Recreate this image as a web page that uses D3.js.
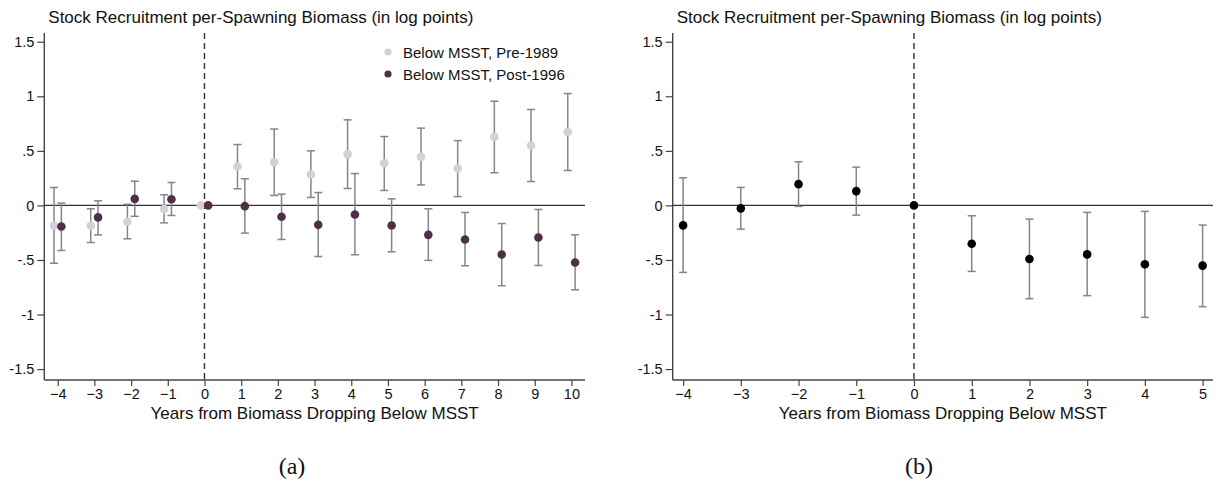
<!DOCTYPE html>
<html>
<head>
<meta charset="utf-8">
<script src="https://cdn.jsdelivr.net/npm/d3@7"></script>
<style>
  body { margin: 0; background: #fff; }
  svg { display: block; font-family: "Liberation Sans", Arial, sans-serif; }
</style>
</head>
<body>
<svg id="chart" width="1219" height="494"></svg>
<script>
// panel (a): years and the two samples
const yearsA = [-4, -3, -2, -1, 0, 1, 2, 3, 4, 5, 6, 7, 8, 9, 10];
const preEst = [-0.187, -0.187, -0.15, -0.034, 0, 0.356, 0.396, 0.283, 0.47, 0.387, 0.445, 0.338, 0.628, 0.549, 0.674];
const preLo  = [-0.53, -0.34, -0.306, -0.16, null, 0.152, 0.091, 0.073, 0.155, 0.137, 0.188, 0.081, 0.299, 0.219, 0.32];
const preHi  = [0.164, -0.031, 0.01, 0.097, null, 0.558, 0.70, 0.50, 0.784, 0.631, 0.708, 0.594, 0.955, 0.879, 1.025];
const postEst = [-0.193, -0.11, 0.06, 0.057, 0, -0.007, -0.104, -0.178, -0.083, -0.184, -0.27, -0.312, -0.45, -0.294, -0.523];
const postLo  = [-0.413, -0.27, -0.10, -0.092, null, -0.254, -0.312, -0.468, -0.452, -0.425, -0.504, -0.553, -0.736, -0.55, -0.773];
const postHi  = [0.021, 0.042, 0.222, 0.21, null, 0.244, 0.103, 0.118, 0.292, 0.06, -0.031, -0.065, -0.166, -0.037, -0.27];

// panel (b)
const yearsB = [-4, -3, -2, -1, 0, 1, 2, 3, 4, 5];
const estB = [-0.183, -0.027, 0.195, 0.131, 0, -0.351, -0.491, -0.449, -0.54, -0.552];
const loB  = [-0.614, -0.217, -0.009, -0.089, null, -0.605, -0.855, -0.827, -1.026, -0.928];
const hiB  = [0.253, 0.165, 0.40, 0.351, null, -0.095, -0.125, -0.064, -0.055, -0.18];

const yTicks = [-1.5, -1, -0.5, 0, 0.5, 1, 1.5];
const titleText = "Stock Recruitment per-Spawning Biomass (in log points)";
const xTitleText = "Years from Biomass Dropping Below MSST";
const seriesNames = ["Below MSST, Pre-1989", "Below MSST, Post-1996"];

const colLight = "#d9cdd6";
const colDark = "#4d3048";
const colBar = "#858585";

const svg = d3.select("#chart");

function fmtY(v) {
  if (v === 0) return "0";
  let s = String(v);
  return s.replace("0.", ".");
}

function drawPanel(opt) {
  const x = d3.scaleLinear().domain(opt.xDomain).range([opt.left, opt.right]);
  const y = d3.scaleLinear().domain([-1.6, 1.58]).range([380, 33]);
  const g = svg.append("g");

  // title
  g.append("text")
    .attr("x", opt.left + 4)
    .attr("y", 23)
    .attr("font-size", 17)
    .attr("fill", "#111")
    .text(titleText);

  // axes
  const yAxis = g.append("g")
    .attr("transform", `translate(${opt.left},0)`)
    .call(d3.axisLeft(y).tickValues(yTicks).tickFormat(fmtY).tickSizeOuter(0).tickSize(7).tickPadding(3));
  const xAxis = g.append("g")
    .attr("transform", `translate(0,380)`)
    .call(d3.axisBottom(x).tickValues(opt.years).tickFormat(d3.format("d")).tickSizeOuter(0).tickSize(6).tickPadding(3));
  [yAxis, xAxis].forEach(a => {
    a.select(".domain").attr("stroke", "#444").attr("stroke-width", 1.4);
    a.selectAll(".tick line").attr("stroke", "#444").attr("stroke-width", 1.2);
    a.selectAll("text").attr("font-size", 14.5).attr("fill", "#111").attr("font-family", "Liberation Sans, Arial, sans-serif");
  });
  yAxis.select(".domain").attr("d", `M0,380V33`);
  xAxis.select(".domain").attr("d", `M${opt.left},0H${opt.right}`);

  // zero line and event line
  g.append("line")
    .attr("x1", opt.left).attr("x2", opt.right)
    .attr("y1", y(0)).attr("y2", y(0))
    .attr("stroke", "#333").attr("stroke-width", 1.4);
  g.append("line")
    .attr("x1", x(0)).attr("x2", x(0))
    .attr("y1", 33).attr("y2", 380)
    .attr("stroke", "#333").attr("stroke-width", 1.4)
    .attr("stroke-dasharray", "6,4");

  // x title
  g.append("text")
    .attr("x", (opt.left + opt.right) / 2)
    .attr("y", 419)
    .attr("text-anchor", "middle")
    .attr("font-size", 17)
    .attr("fill", "#111")
    .text(xTitleText);

  // caption
  g.append("text")
    .attr("x", opt.capX)
    .attr("y", 474)
    .attr("text-anchor", "middle")
    .attr("font-size", 24)
    .attr("font-family", "Liberation Serif, 'DejaVu Serif', serif")
    .attr("fill", "#111")
    .text(opt.caption);

  // series
  opt.series.forEach(s => {
    const pts = opt.years.map((yr, i) => ({ yr: yr + s.shift, est: s.est[i], lo: s.lo[i], hi: s.hi[i] }));
    const withCi = pts.filter(d => d.lo !== null);
    const bars = g.append("g").attr("stroke", colBar).attr("stroke-width", 1.5);
    bars.selectAll(".ci").data(withCi).enter().append("line")
      .attr("x1", d => x(d.yr)).attr("x2", d => x(d.yr))
      .attr("y1", d => y(d.lo)).attr("y2", d => y(d.hi));
    bars.selectAll(".capHi").data(withCi).enter().append("line")
      .attr("x1", d => x(d.yr) - 4).attr("x2", d => x(d.yr) + 4)
      .attr("y1", d => y(d.hi)).attr("y2", d => y(d.hi));
    bars.selectAll(".capLo").data(withCi).enter().append("line")
      .attr("x1", d => x(d.yr) - 4).attr("x2", d => x(d.yr) + 4)
      .attr("y1", d => y(d.lo)).attr("y2", d => y(d.lo));
    g.append("g").selectAll("circle").data(pts).enter().append("circle")
      .attr("cx", d => x(d.yr))
      .attr("cy", d => y(d.est))
      .attr("r", 4.3)
      .attr("fill", s.color);
  });

  // legend
  if (opt.legend) {
    const lg = g.append("g");
    opt.series.forEach((s, i) => {
      lg.append("circle")
        .attr("cx", 388).attr("cy", 52 + i * 22)
        .attr("r", 3.6).attr("fill", s.color);
      lg.append("text")
        .attr("x", 403).attr("y", 57.5 + i * 22)
        .attr("font-size", 15)
        .attr("fill", "#111")
        .text(s.name);
    });
  }
}

drawPanel({
  left: 44.3, right: 585, xDomain: [-4.365, 10.37], years: yearsA,
  caption: "(a)", capX: 292, legend: true,
  series: [
    { name: seriesNames[0], est: preEst, lo: preLo, hi: preHi, color: colLight, shift: -0.1 },
    { name: seriesNames[1], est: postEst, lo: postLo, hi: postHi, color: colDark, shift: 0.1 }
  ]
});

drawPanel({
  left: 672.7, right: 1213, xDomain: [-4.18, 5.18], years: yearsB,
  caption: "(b)", capX: 919, legend: false,
  series: [
    { name: "", est: estB, lo: loB, hi: hiB, color: "#000", shift: 0 }
  ]
});
</script>
</body>
</html>
